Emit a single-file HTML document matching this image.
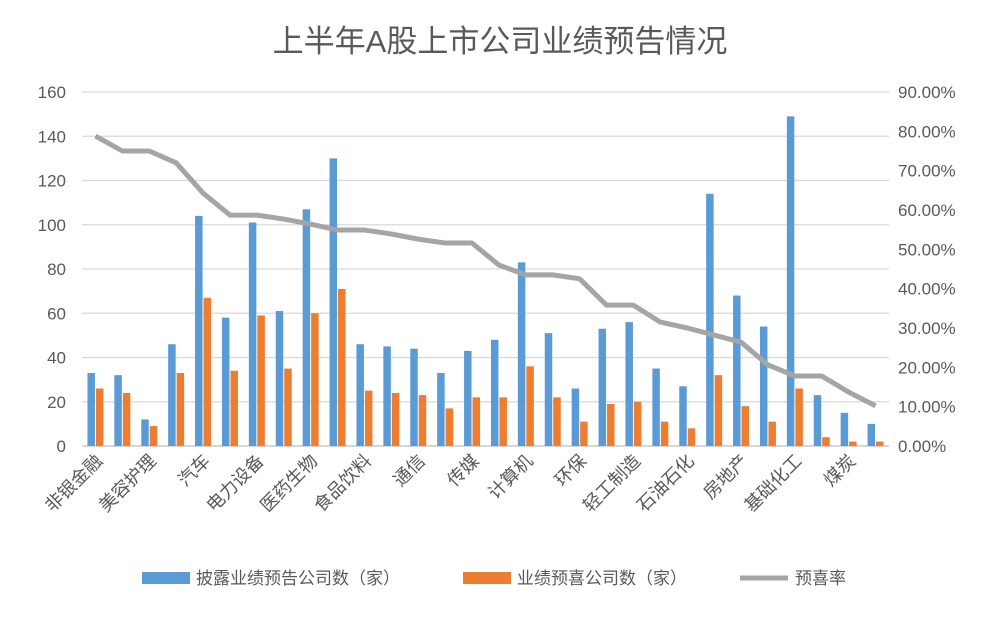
<!DOCTYPE html>
<html><head><meta charset="utf-8">
<style>
body{margin:0;background:#fff;}
svg{display:block;font-family:"Liberation Sans","Noto Sans CJK SC",sans-serif;}
</style></head>
<body>
<svg id="chart" width="1000" height="617" viewBox="0 0 1000 617">
<text x="500" y="52" text-anchor="middle" font-size="31" fill="#595959">上半年A股上市公司业绩预告情况</text>
<g id="grid"></g><g id="bars"></g><g id="line"></g><g id="axes"></g>
<g>
<rect x="142" y="572" width="48" height="12" fill="#5B9BD5"/>
<text x="196" y="584" font-size="17" fill="#595959">披露业绩预告公司数（家）</text>
<rect x="463" y="572" width="48" height="12" fill="#ED7D31"/>
<text x="517" y="584" font-size="17" fill="#595959">业绩预喜公司数（家）</text>
<line x1="740" y1="578" x2="788" y2="578" stroke="#A5A5A5" stroke-width="5"/>
<text x="795" y="584" font-size="17" fill="#595959">预喜率</text>
</g>
</svg>
<script>
const categories=["非银金融","家用电器","美容护理","农林牧渔","汽车","银行","电力设备","机械设备","医药生物","电子","食品饮料","有色金属","通信","国防军工","传媒","建筑材料","计算机","纺织服饰","环保","商贸零售","轻工制造","社会服务","石油石化","交通运输","房地产","钢铁","基础化工","建筑装饰","煤炭","综合"];
const disclosed=[33,32,12,46,104,58,101,61,107,130,46,45,44,33,43,48,83,51,26,53,56,35,27,114,68,54,149,23,15,10];
const positive=[26,24,9,33,67,34,59,35,60,71,25,24,23,17,22,22,36,22,11,19,20,11,8,32,18,11,26,4,2,2];
const rate=[78.8,75,75,72,64.3,58.7,58.7,57.7,56.4,54.9,54.9,53.9,52.6,51.6,51.6,46,43.5,43.5,42.5,35.8,35.8,31.5,30,28.2,26.4,20.6,17.8,17.8,13.7,10.2];
const leftTicks=[0,20,40,60,80,100,120,140,160];
const rightTicks=[0,10,20,30,40,50,60,70,80,90];

const NS="http://www.w3.org/2000/svg";
const X0=82,X1=889,Y0=446,Y1=92;
const band=(X1-X0)/categories.length;
const yL=v=>Y0-(v/160)*(Y0-Y1);
const yR=v=>Y0-(v/90)*(Y0-Y1);
const xC=i=>X0+band*(i+0.5);
function mk(tag,attrs,parent){const e=document.createElementNS(NS,tag);for(const k in attrs)e.setAttribute(k,attrs[k]);parent.appendChild(e);return e;}
const grid=document.getElementById('grid'),bars=document.getElementById('bars'),line=document.getElementById('line'),axes=document.getElementById('axes');
leftTicks.forEach(t=>{
 const l=mk('line',{x1:X0,x2:X1,y1:yL(t),y2:yL(t),stroke:t===0?'#BFBFBF':'#D9D9D9','stroke-width':1.3},grid);
 
 
 const tx=mk('text',{x:66,y:yL(t)+6,'text-anchor':'end','font-size':17,fill:'#595959'},axes);
 tx.textContent=t;
 
 
});
rightTicks.forEach(t=>{
 const tx=mk('text',{x:898,y:yR(t)+6,'font-size':17,fill:'#595959'},axes);
 tx.textContent=t.toFixed(2)+'%';
 
 
});
const bw=7.5;
categories.forEach((c,i)=>{
 const cx=xC(i);
 const b=mk('rect',{x:cx-bw-0.5,y:yL(disclosed[i]),width:bw,height:Y0-yL(disclosed[i]),fill:'#5B9BD5'},bars);
 
 
 const o=mk('rect',{x:cx+0.5,y:yL(positive[i]),width:bw,height:Y0-yL(positive[i]),fill:'#ED7D31'},bars);
 
 
 if(i%2===0){
  const tx=mk('text',{x:cx+8,y:Y0+16,'text-anchor':'end','font-size':18,fill:'#595959',transform:`rotate(-45 ${cx+8} ${Y0+16})`},axes);
  tx.textContent=c;
  
  
 }
});
const pts=rate.map((v,i)=>xC(i)+','+yR(v)).join(' ');
const pl=mk('polyline',{points:pts,fill:'none',stroke:'#A5A5A5','stroke-width':5,'stroke-linejoin':'round'},line);


</script>
</body></html>
